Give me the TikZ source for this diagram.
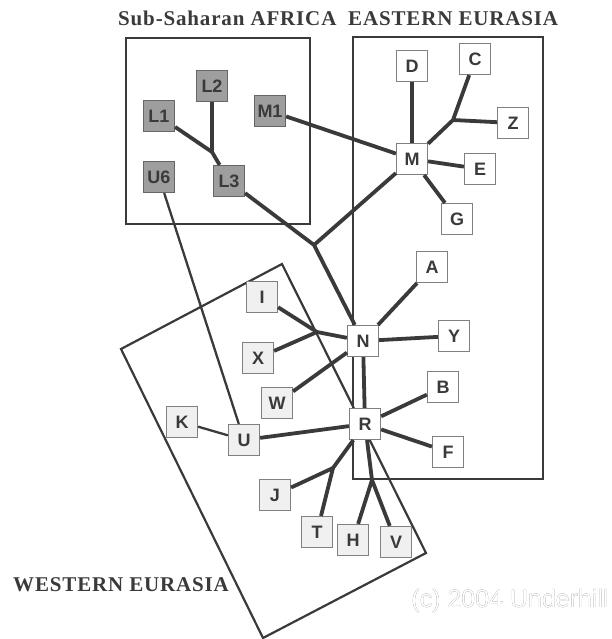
\documentclass[tikz,border=0pt]{standalone}
\usepackage{fontspec}
\setmainfont{Liberation Serif}
\setsansfont{Liberation Sans}
\usepackage[outline]{contour}
\contourlength{0.7pt}
\definecolor{ink}{HTML}{3A3A3A}
\definecolor{hapfill}{HTML}{9E9E9E}
\definecolor{lightfill}{HTML}{F0F0F0}
\tikzset{
  hap/.style={draw=gray, line width=1.2pt, fill=white, minimum size=31pt, inner sep=0pt,
    font=\sffamily\bfseries\fontsize{18}{18}\selectfont, text=ink},
  afr/.style={hap, fill=hapfill, draw=gray!80!black},
  west/.style={hap, fill=lightfill},
  link/.style={draw=ink, line width=3.8pt, line join=round},
  thinlink/.style={draw=ink, line width=2.3pt},
  region/.style={draw=ink, line width=2.2pt},
  zone/.style={font=\bfseries\fontsize{21}{21}\selectfont\addfontfeatures{LetterSpace=4},
    text=ink, inner sep=0pt, anchor=base west}
}

\begin{document}
\begin{tikzpicture}[x=1pt,y=-1pt]
    \useasboundingbox (0,0) rectangle (611,639);
    \draw[region] (126,38) rectangle (310,224);
    \draw[region] (353,37) rectangle (543,479);
    \draw[region] (282,264) -- (426,553) -- (263,638) -- (121,349) -- cycle;
    \node[zone] (africa) at (118,26) {Sub-Saharan AFRICA};
    \node[zone] (eastern) at (348,26) {EASTERN EURASIA};
    \node[zone] (western) at (13,591) {WESTERN EURASIA};
    \node[afr] (l2) at (212,86) {L2};
    \node[afr] (l1) at (159,116) {L1};
    \node[afr] (m1) at (270,111) {M1};
    \node[afr] (u6) at (159,177) {U6};
    \node[afr] (l3) at (229,181) {L3};
    \node[hap] (d) at (412,66) {D};
    \node[hap] (c) at (475,59) {C};
    \node[hap] (z) at (513,123) {Z};
    \node[hap] (m) at (412,159) {M};
    \node[hap] (e) at (480,169) {E};
    \node[hap] (g) at (457,219) {G};
    \node[hap] (a) at (432,267) {A};
    \node[west] (i) at (262,297) {I};
    \node[hap] (n) at (363,341) {N};
    \node[hap] (y) at (454,336) {Y};
    \node[west] (x) at (258,358) {X};
    \node[west] (w) at (277,403) {W};
    \node[hap] (b) at (443,387) {B};
    \node[west] (k) at (182,422) {K};
    \node[hap] (r) at (365,424) {R};
    \node[west] (u) at (244,440) {U};
    \node[hap] (f) at (448,452) {F};
    \node[west] (j) at (275,495) {J};
    \node[west] (t) at (317,532) {T};
    \node[west] (h) at (353,540) {H};
    \node[west] (v) at (396,542) {V};
    \coordinate (jl) at (212,152);
    \coordinate (jc) at (453,120);
    \coordinate (jn) at (314,245);
    \coordinate (ji) at (317,332);
    \coordinate (jt) at (333,468);
    \coordinate (jh) at (372,480);
    \draw[link] (l1) -- (jl) -- (l3);
    \draw[link] (l2) -- (jl);
    \path[link] (m1) edge (m);
    \draw[link] (l3) -- (jn) -- (n);
    \draw[link] (m) -- (jn);
    \path[link] (d) edge (m);
    \draw[link] (c) -- (jc) -- (m);
    \draw[link] (z) -- (jc);
    \path[link] (e) edge (m);
    \path[link] (g) edge (m);
    \path[link] (a) edge (n);
    \path[link] (y) edge (n);
    \draw[link] (i) -- (ji) -- (n);
    \draw[link] (x) -- (ji);
    \path[link] (w) edge (n);
    \path[link] (n) edge (r);
    \path[link] (b) edge (r);
    \path[link] (f) edge (r);
    \path[link] (u) edge (r);
    \path[thinlink] (k) edge (u);
    \path[thinlink] (u6) edge (u);
    \draw[link] (j) -- (jt) -- (r);
    \draw[link] (t) -- (jt);
    \draw[link] (h) -- (jh) -- (r);
    \draw[link] (v) -- (jh);
    \node[font=\sffamily\fontsize{25}{25}\selectfont, anchor=base east, inner sep=0pt]
      (credit) at (609,607) {\contour{gray!70!black}{\color{white}(c) 2004 Underhill}};
\end{tikzpicture}
\end{document}
